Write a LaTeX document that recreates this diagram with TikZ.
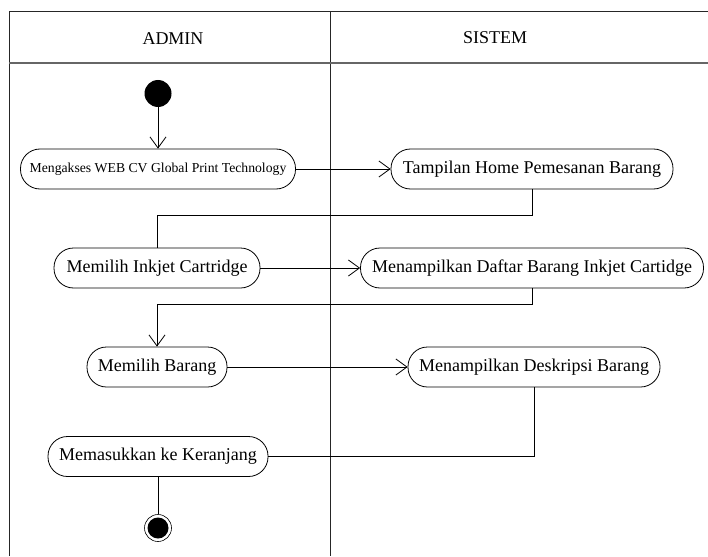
\documentclass[tikz,border=0pt]{standalone}
\usepackage{fontspec}
\setmainfont{Liberation Serif}
\usetikzlibrary{arrows.meta}
\begin{document}
\begin{tikzpicture}[x=1pt,y=-1pt,
  act/.style={draw, line width=0.8pt, rounded corners=19.5pt, minimum height=40pt,
              inner sep=0pt, font=\fontsize{18}{20}\selectfont},
  head/.style={font=\fontsize{18}{20}\selectfont},
  flow/.style={line width=0.8pt},
  arr/.style={flow, -{Straight Barb[length=11pt,width=16pt,line width=0.8pt]}},
  lane/.style={line width=1pt, draw=black!85}]
\useasboundingbox (0,0) rectangle (708,556);

% swimlane frame
\draw[lane] (9,556) -- (9,12) -- (708,12);
\draw[lane] (330,12) -- (330,556);
\draw[line width=1.6pt, draw=black!60] (9,63) -- (708,63);
\node[head] (hA) at (173,39) {ADMIN};
\node[head] (hS) at (495,38) {SISTEM};

% start and end
\node[circle, fill=black, minimum size=27pt, inner sep=0pt] (start) at (158,93.5) {};
\node[circle, draw, line width=0.6pt, minimum size=27pt, inner sep=0pt] (stop) at (158,528) {};
\fill (stop) circle (10.5pt);

% activities
\node[act, minimum width=275pt, font=\fontsize{13.7}{15}\selectfont] (n1) at (158,169)
  {Mengakses WEB CV Global Print Technology};
\node[act, minimum width=282pt] (n2) at (532,169) {Tampilan Home Pemesanan Barang};
\node[act, minimum width=206pt] (n3) at (157,268) {Memilih Inkjet Cartridge};
\node[act, minimum width=343pt] (n4) at (532,268) {Menampilkan Daftar Barang Inkjet Cartidge};
\node[act, minimum width=140pt] (n5) at (157,367) {Memilih Barang};
\node[act, minimum width=252pt] (n6) at (534,367) {Menampilkan Deskripsi Barang};
\node[act, minimum width=220pt] (n7) at (158,456.5) {Memasukkan ke Keranjang};

% bend points
\coordinate (b1) at (157,215);
\coordinate (b2) at (157,304);

% flows
\draw[arr] (start) -- (n1.north);
\draw[arr] (n1) -- (n2);
\draw[flow] (n2.south) |- (b1) -- (n3.north);
\draw[arr] (n3) -- (n4);
\draw[arr] (n4.south) |- (b2) -- (n5.north);
\draw[arr] (n5) -- (n6);
\draw[flow] (n6.south) |- (n7.east);
\draw[flow] (n7.south) -- (stop);
\end{tikzpicture}
\end{document}
